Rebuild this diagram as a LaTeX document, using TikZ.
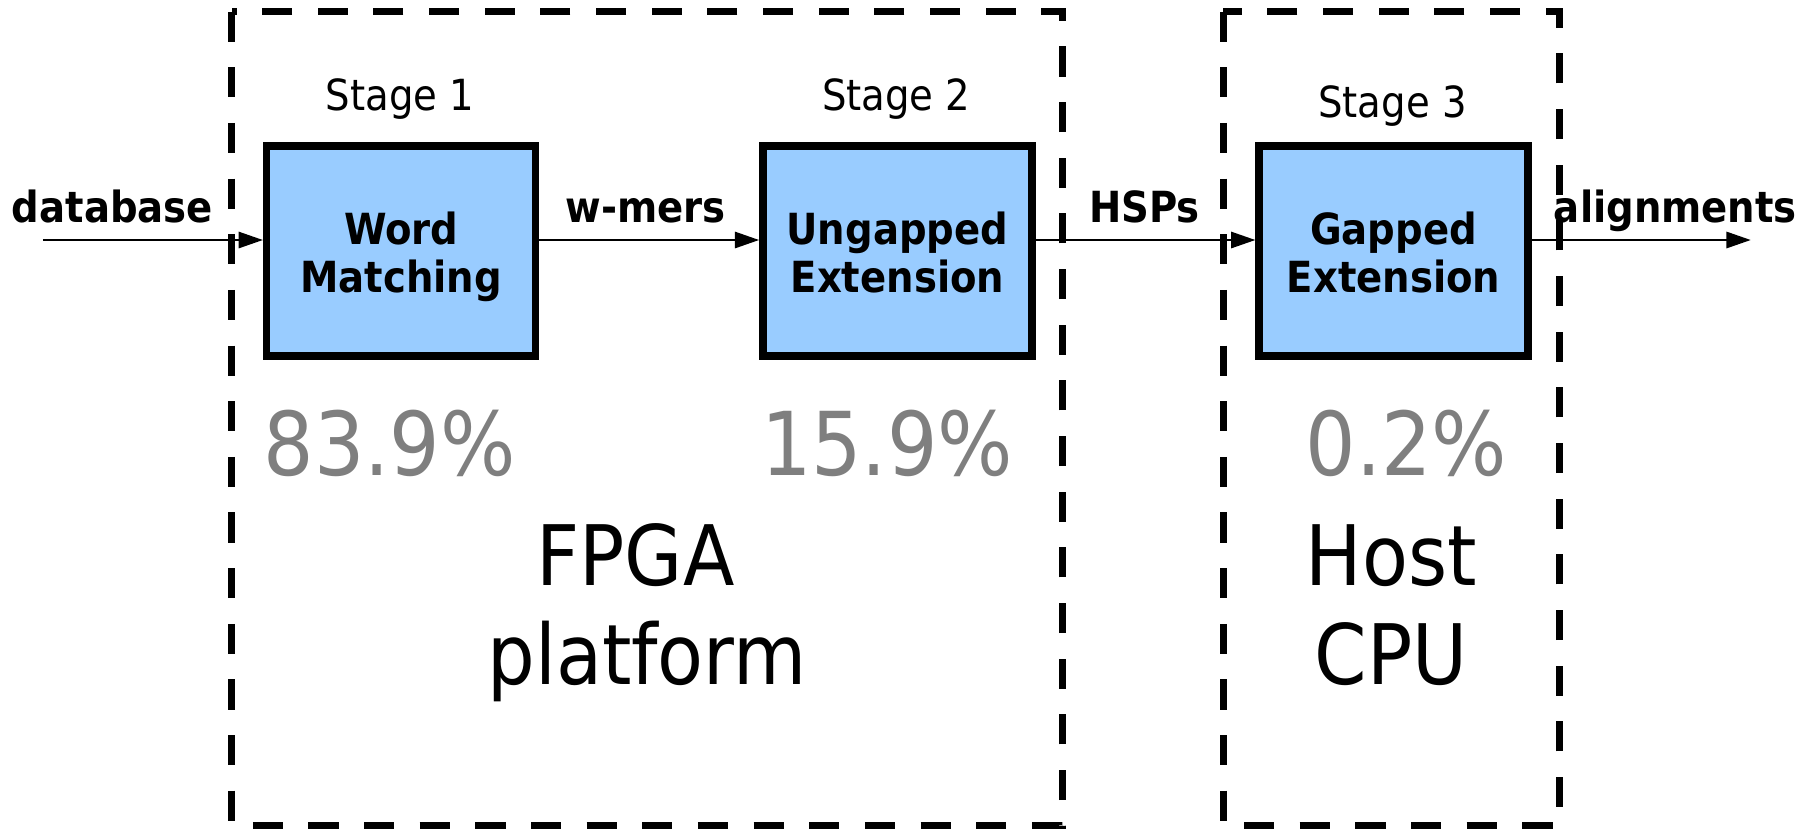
\documentclass[tikz,border=0pt]{standalone}
\usepackage{fontspec}
\setmainfont{DejaVu Sans Condensed}
\usetikzlibrary{arrows.meta}
\definecolor{boxblue}{HTML}{99CCFF}
\definecolor{pctgray}{HTML}{7F7F7F}
\newcommand{\boxtxt}[2]{\rule{0pt}{42pt}#1\\#2\rule[-12pt]{0pt}{12pt}}
\begin{document}
\begin{tikzpicture}[x=1pt,y=-1pt,
  stagebox/.style={draw=black,line width=6.5pt,fill=boxblue,minimum width=232pt,minimum height=181pt,inner sep=0pt,align=center,font=\fontsize{37}{41}\selectfont\bfseries},
  region/.style={draw=black,line width=6pt,dash pattern=on 26pt off 22pt},
  flow/.style={line width=2pt,-{Triangle[length=21pt,width=14pt]}},
  lbl/.style={anchor=base,inner sep=0pt,font=\fontsize{37}{41}\selectfont\bfseries},
  stagelbl/.style={anchor=base,inner sep=0pt,font=\fontsize{37}{41}\selectfont},
  pct/.style={anchor=base,inner sep=0pt,text=pctgray,font=\fontsize{76}{85}\selectfont},
  platlbl/.style={anchor=base,inner sep=0pt,font=\fontsize{72}{85}\selectfont}]
\useasboundingbox (0,0) rectangle (1568,715);
% regions
\draw[region] (200,10) rectangle (916,712);
\draw[region] (1055,10) rectangle (1345,712);
% stage boxes
\node[stagebox] (wm) at (346,216.5) {\boxtxt{Word}{Matching}};
\node[stagebox] (ue) at (774,216.5) {\boxtxt{Ungapped}{Extension}};
\node[stagebox] (ge) at (1202,216.5) {\boxtxt{Gapped}{Extension}};
% free ends
\coordinate (in) at (37,207);
\coordinate (out) at (1510,207);
% connectors
\draw[flow] (in) -- (wm.west |- in);
\draw[flow] (wm.east |- in) -- (ue.west |- in);
\draw[flow] (ue.east |- in) -- (ge.west |- in);
\draw[flow] (ge.east |- in) -- (out);
% arrow labels
\node[lbl] (ldb) at (97,192) {database};
\node[lbl] (lwm) at (557,192) {w-mers};
\node[lbl] (lhsp) at (987,192) {HSPs};
\node[lbl] (lal) at (1445,192) {alignments};
% stage labels
\node[stagelbl] (s1) at (345,95) {Stage 1};
\node[stagelbl] (s2) at (773,95) {Stage 2};
\node[stagelbl] (s3) at (1201,101) {Stage 3};
% percentages
\node[pct] (p1) at (336,410) {83.9\%};
\node[pct] (p2) at (765,410) {15.9\%};
\node[pct] (p3) at (1213,410) {0.2\%};
% platforms
\node[platlbl] (f1) at (548,505) {FPGA};
\node[platlbl] (f2) at (558,590) {platform};
\node[platlbl] (h1) at (1200,505) {Host};
\node[platlbl] (h2) at (1200,590) {CPU};
\end{tikzpicture}
\end{document}
